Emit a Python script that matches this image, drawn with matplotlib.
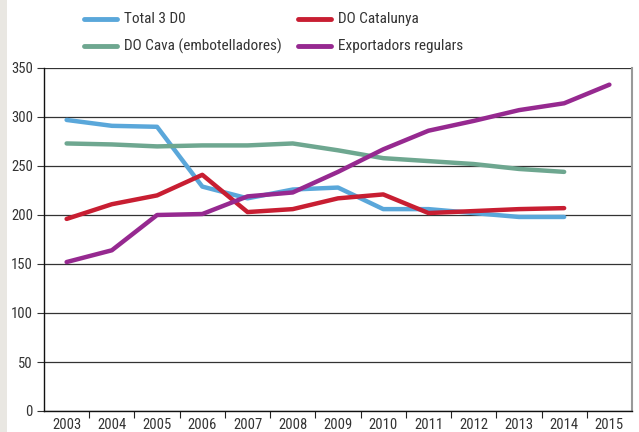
import matplotlib.pyplot as plt
import matplotlib.patches as patches
from matplotlib.lines import Line2D
from matplotlib import font_manager
import numpy as np

# ---- data ----
years = ['2003', '2004', '2005', '2006', '2007', '2008', '2009',
         '2010', '2011', '2012', '2013', '2014', '2015']
total3do = [297, 291, 290, 229, 217, 226, 228, 206, 206, 202, 198, 198]
catalunya = [196, 211, 220, 241, 203, 206, 217, 221, 202, 204, 206, 207]
cava = [273, 272, 270, 271, 271, 273, 266, 258, 255, 252, 247, 244]
exportadors = [152, 164, 200, 201, 219, 223, 244, 267, 286, 296, 307, 314, 333]

series = [
    ('Total 3 D0', total3do, '#5aa7da'),
    ('DO Catalunya', catalunya, '#c81e32'),
    ('DO Cava (embotelladores)', cava, '#6ea790'),
    ('Exportadors regulars', exportadors, '#962990'),
]

# pick a narrow font if one is installed, else Liberation Sans
names = {f.name for f in font_manager.fontManager.ttflist}
narrow = [n for n in ['Liberation Sans Narrow', 'Arial Narrow', 'Roboto Condensed',
                      'Open Sans Condensed', 'DejaVu Sans Condensed'] if n in names]
main_font = narrow[0] if narrow else 'Liberation Sans'
plt.rcParams['font.family'] = [main_font, 'DejaVu Sans']
fs = 10.5 if narrow else 9.5

fig = plt.figure(figsize=(6.39, 4.32), dpi=100)
fig.patches.append(patches.Rectangle((0, 0), 7 / 639, 1, transform=fig.transFigure,
                                     facecolor='#e9e7e2', edgecolor='none'))

ax = fig.add_axes([44 / 639, 1 - 411 / 432, 588 / 639, 343 / 432])

for name, vals, col in series:
    ax.plot(range(len(vals)), vals, color=col, lw=3.2, solid_capstyle='round',
            solid_joinstyle='round', zorder=3)

ax.set_xlim(-0.5, len(years) - 0.5)
ax.set_ylim(0, 350)
ax.set_yticks(np.arange(0, 351, 50))
ax.yaxis.grid(True, color='#333333', lw=0.9)
ax.set_axisbelow(True)

ax.set_xticks(range(len(years)))
ax.set_xticklabels(years)
ax.set_xticks(np.arange(0.5, len(years) - 0.5, 1), minor=True)
ax.tick_params(axis='x', which='major', length=0, pad=5, labelsize=fs, colors='#333333')
ax.tick_params(axis='x', which='minor', length=5, width=0.8, direction='out', color='#222222')
ax.tick_params(axis='y', length=5, width=0.8, direction='out', pad=3, labelsize=fs,
               colors='#333333')

for s in ['left', 'bottom']:
    ax.spines[s].set_color('#111111')
    ax.spines[s].set_linewidth(1.0)
ax.spines['top'].set_visible(False)
ax.spines['right'].set_color('#999999')
ax.spines['right'].set_linewidth(1.5)

# ---- legend, drawn by hand in two columns ----
leg_pos = [(84, 19), (298, 19), (84, 46), (298, 46)]
for (name, vals, col), (lx, ly) in zip(series, leg_pos):
    yf = 1 - ly / 432
    fig.add_artist(Line2D([lx / 639, (lx + 33) / 639], [yf, yf], color=col, lw=3.5,
                          solid_capstyle='round', transform=fig.transFigure))
    fig.text((lx + 40) / 639, yf, name, fontsize=fs + 0.5, color='#333333',
             va='center', ha='left')

fig.savefig('out.png', dpi=100)
